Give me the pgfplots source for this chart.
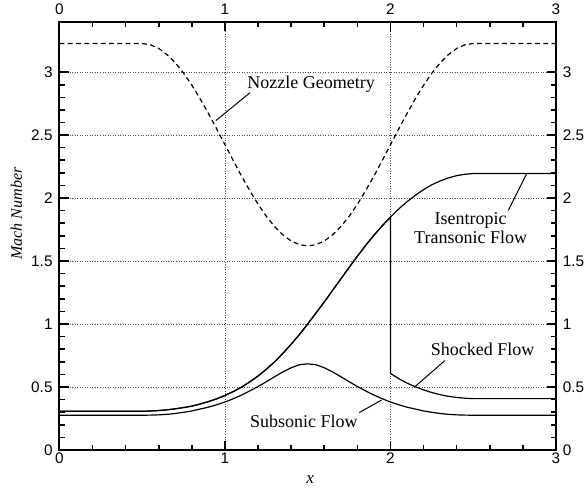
\documentclass[border=0pt]{standalone}
\usepackage{fontspec}
\setmainfont{Liberation Serif}
\setsansfont{Liberation Sans}
\usepackage{pgfplots}
\pgfplotsset{compat=1.18}
\usepackage{pgfplotstable}

% Nozzle area profile (cosine contraction, throat at x = 1.5)
\pgfplotstableread{
x A
0.00 3.227
0.50 3.227
0.55 3.217
0.60 3.188
0.65 3.139
0.70 3.074
0.75 2.992
0.80 2.896
0.85 2.788
0.90 2.672
0.95 2.549
1.00 2.424
1.05 2.298
1.10 2.175
1.15 2.059
1.20 1.951
1.25 1.855
1.30 1.773
1.35 1.708
1.40 1.659
1.45 1.630
1.50 1.620
1.55 1.630
1.60 1.659
1.65 1.708
1.70 1.773
1.75 1.855
1.80 1.951
1.85 2.059
1.90 2.175
1.95 2.298
2.00 2.424
2.05 2.549
2.10 2.672
2.15 2.788
2.20 2.896
2.25 2.992
2.30 3.074
2.35 3.139
2.40 3.188
2.45 3.217
2.50 3.227
3.00 3.227
}\nozzle

% Fully subsonic solution
\pgfplotstableread{
x M
0.00 0.276
0.50 0.276
0.55 0.277
0.60 0.279
0.65 0.283
0.70 0.290
0.75 0.299
0.80 0.310
0.85 0.325
0.90 0.340
0.95 0.359
1.00 0.381
1.05 0.407
1.10 0.436
1.15 0.469
1.20 0.504
1.25 0.542
1.30 0.582
1.35 0.620
1.40 0.653
1.45 0.677
1.50 0.684
1.55 0.677
1.60 0.653
1.65 0.620
1.70 0.582
1.75 0.542
1.80 0.504
1.85 0.469
1.90 0.436
1.95 0.407
2.00 0.381
2.05 0.359
2.10 0.340
2.15 0.325
2.20 0.310
2.25 0.299
2.30 0.290
2.35 0.283
2.40 0.279
2.45 0.277
2.50 0.276
3.00 0.276
}\subsonic

% Isentropic subsonic-supersonic solution
\pgfplotstableread{
x M
0.00 0.307
0.50 0.307
0.55 0.310
0.60 0.313
0.65 0.319
0.70 0.327
0.75 0.337
0.80 0.348
0.85 0.365
0.90 0.384
0.95 0.406
1.00 0.433
1.05 0.464
1.10 0.499
1.15 0.541
1.20 0.588
1.25 0.641
1.30 0.700
1.35 0.767
1.40 0.840
1.45 0.917
1.50 1.000
1.55 1.088
1.60 1.175
1.65 1.267
1.70 1.358
1.75 1.449
1.80 1.538
1.85 1.624
1.90 1.705
1.95 1.780
2.00 1.849
2.05 1.914
2.10 1.971
2.15 2.022
2.20 2.067
2.25 2.106
2.30 2.136
2.35 2.160
2.40 2.178
2.45 2.189
2.50 2.195
3.00 2.195
}\transonic

% Solution with a normal shock at x = 2
\pgfplotstableread{
x M
0.00 0.307
0.50 0.307
0.55 0.310
0.60 0.313
0.65 0.319
0.70 0.327
0.75 0.337
0.80 0.348
0.85 0.365
0.90 0.384
0.95 0.406
1.00 0.433
1.05 0.464
1.10 0.499
1.15 0.541
1.20 0.588
1.25 0.641
1.30 0.700
1.35 0.767
1.40 0.840
1.45 0.917
1.50 1.000
1.55 1.088
1.60 1.175
1.65 1.267
1.70 1.358
1.75 1.449
1.80 1.538
1.85 1.624
1.90 1.705
1.95 1.780
2.00 1.849
2.00 0.608
2.05 0.566
2.10 0.531
2.15 0.502
2.20 0.477
2.25 0.456
2.30 0.439
2.35 0.426
2.40 0.417
2.45 0.411
2.50 0.408
3.00 0.408
}\shocked

\tikzset{annot/.style={font=\fontsize{13.5}{14}\selectfont, anchor=base}}

\begin{document}
\begin{tikzpicture}
% layer 1: dotted grid only
\begin{axis}[
  scale only axis,
  width=372.4pt, height=321.2pt,
  xmin=0, xmax=3, ymin=0, ymax=3.4,
  xtick={0,1,2,3},
  ytick={0,0.5,1,1.5,2,2.5,3},
  xticklabels={}, yticklabels={},
  major tick length=0pt,
  axis line style={draw=none},
  grid=major,
  major grid style={dash pattern=on 0.6pt off 1.3pt, line width=0.5pt, black!70},
]
\end{axis}
% layer 2: curves and annotations
\begin{axis}[
  scale only axis,
  width=372.4pt, height=321.2pt,
  xmin=0, xmax=3, ymin=0, ymax=3.4,
  hide axis,
]
\addplot[black, line width=0.9pt, dash pattern=on 3.6pt off 2.6pt] table[x=x, y=A] {\nozzle};
\addplot[black, line width=0.9pt] table[x=x, y=M] {\subsonic};
\addplot[black, line width=0.9pt] table[x=x, y=M] {\transonic};
\addplot[black, line width=0.9pt] table[x=x, y=M] {\shocked};

\node[annot] at (axis cs:1.52,2.867) {Nozzle Geometry};
\draw[line width=0.75pt] (axis cs:1.151,2.836) -- (axis cs:0.945,2.615);
\node[annot] at (axis cs:2.484,1.789) {Isentropic};
\node[annot] at (axis cs:2.484,1.643) {Transonic Flow};
\draw[line width=0.75pt] (axis cs:2.712,1.902) -- (axis cs:2.823,2.194);
\node[annot] at (axis cs:2.557,0.747) {Shocked Flow};
\draw[line width=0.75pt] (axis cs:2.329,0.710) -- (axis cs:2.148,0.503);
\node[annot] at (axis cs:1.476,0.177) {Subsonic Flow};
\draw[line width=0.75pt] (axis cs:1.811,0.297) -- (axis cs:1.947,0.397);

\coordinate (ylab) at (rel axis cs:0,0.552);
\coordinate (xlab) at (axis cs:1.515,0);
\coordinate (bl) at (rel axis cs:0,0);
\coordinate (tr) at (rel axis cs:1,1);
\end{axis}
% layer 3: frame, ticks on all sides, labels bottom and left
\begin{axis}[
  scale only axis,
  width=372.4pt, height=321.2pt,
  xmin=0, xmax=3, ymin=0, ymax=3.4,
  xtick={0,1,2,3},
  xticklabels={0,1,2,3},
  ytick={0,0.5,1,1.5,2,2.5,3},
  yticklabels={0,0.5,1,1.5,2,2.5,3},
  minor x tick num=4, minor y tick num=4,
  tick align=inside,
  major tick length=7pt, minor tick length=4pt,
  every tick/.style={black, line width=1.2pt},
  ticklabel style={font=\sffamily\fontsize{11.5}{13}\selectfont},
  xticklabel style={inner sep=2pt},
  yticklabel style={inner sep=5pt},
  axis line style={line width=1.5pt},
]
\end{axis}
% layer 4: tick labels along the top and right edges
\begin{axis}[
  scale only axis,
  width=372.4pt, height=321.2pt,
  xmin=0, xmax=3, ymin=0, ymax=3.4,
  xtick={0,1,2,3},
  xticklabels={0,1,2,3},
  ytick={0,0.5,1,1.5,2,2.5,3},
  yticklabels={0,0.5,1,1.5,2,2.5,3},
  major tick length=0pt,
  axis line style={draw=none},
  ticklabel style={font=\sffamily\fontsize{11.5}{13}\selectfont},
  xticklabel pos=right, yticklabel pos=right,
  xticklabel style={anchor=south, inner sep=0pt, yshift=5pt},
  yticklabel style={anchor=west, inner sep=0pt, xshift=5pt},
]
\end{axis}
\node[rotate=90, font=\fontsize{12}{14}\selectfont\itshape]
  at ([xshift=-32.2pt]ylab) {Mach Number};
\node[font=\fontsize{13}{15}\selectfont\itshape]
  at ([yshift=-22.5pt]xlab) {x};
\path ([shift={(-44.6pt,-31.5pt)}]bl) rectangle ([shift={(23.25pt,16.3pt)}]tr);
\end{tikzpicture}
\end{document}
